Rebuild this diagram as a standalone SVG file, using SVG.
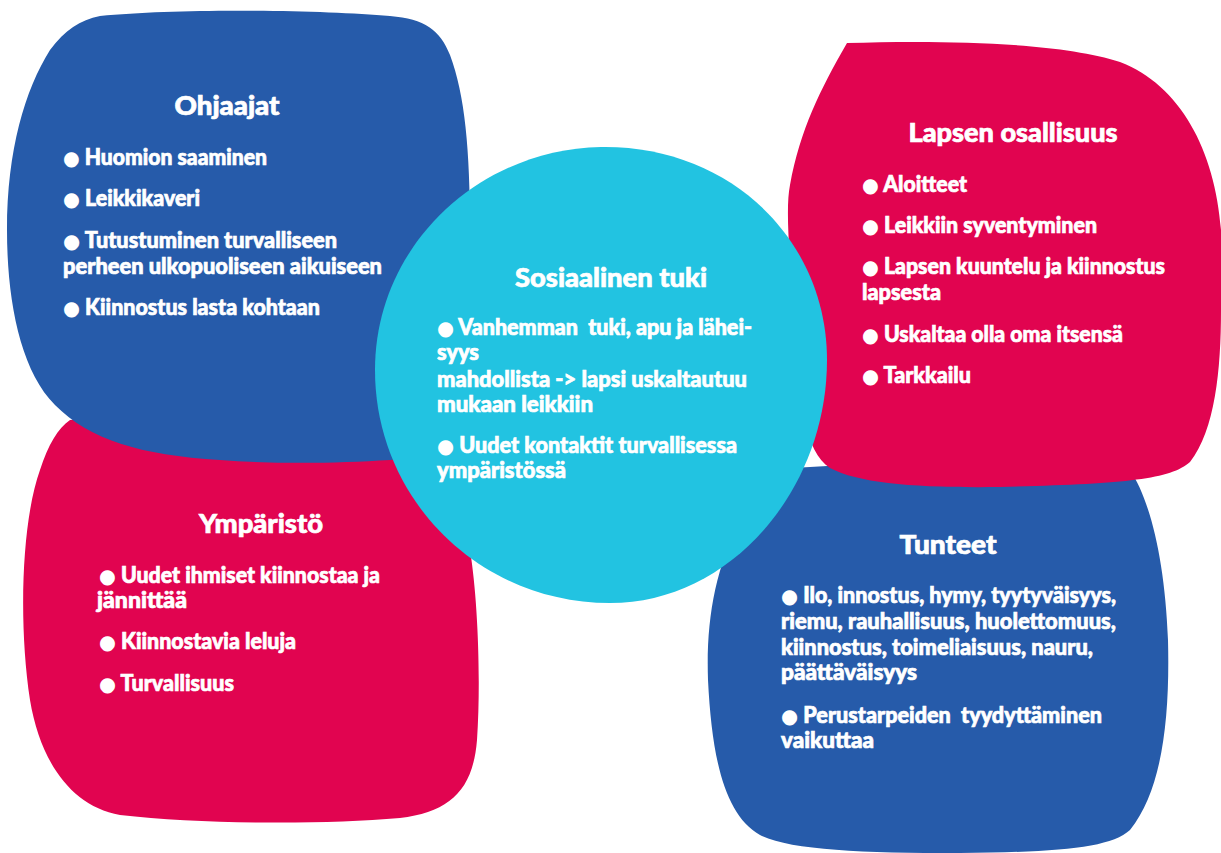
<svg xmlns="http://www.w3.org/2000/svg" width="1221" height="853" viewBox="0 0 1221 853">
<style>
.blue{fill:#265BAA}
.red{fill:#E10450}
.cyan{fill:#22C3E1}
text{fill:#FFFFFF;stroke:#FFFFFF;stroke-width:0.7px;font-family:Lato,"Liberation Sans",sans-serif;font-weight:900}
.t{font-size:26px;text-anchor:middle}
.i{font-size:22px}
.b{font-family:"DejaVu Sans",sans-serif;font-size:20px;stroke-width:0}
</style>
<rect width="1221" height="853" fill="#FFFFFF"/>
<g id="ymparisto">
<path class="red" d="M 70 420 C 150 412 350 412 470 430 L 470 550 C 478 600 481 680 477 740 C 473 790 450 812 400 818 C 320 825 200 824 120 815 C 70 806 40 760 30 700 C 18 620 22 520 40 470 C 48 445 58 428 70 420 Z"/>
<text class="t" x="261" y="533" textLength="124" lengthAdjust="spacingAndGlyphs">Ympäristö</text>
<text class="i" x="99" y="583" textLength="281" lengthAdjust="spacingAndGlyphs"><tspan class="b">●</tspan> Uudet ihmiset kiinnostaa ja</text>
<text class="i" x="97" y="608" textLength="90" lengthAdjust="spacingAndGlyphs">jännittää</text>
<text class="i" x="99" y="649" textLength="197" lengthAdjust="spacingAndGlyphs"><tspan class="b">●</tspan> Kiinnostavia leluja</text>
<text class="i" x="99" y="691" textLength="135" lengthAdjust="spacingAndGlyphs"><tspan class="b">●</tspan> Turvallisuus</text>
</g>
<g id="ohjaajat">
<path class="blue" d="M 100 16 C 180 8 320 10 390 16 C 425 19 440 30 450 55 C 465 95 470 150 470 230 L 470 452 C 400 462 300 466 220 460 C 140 455 90 440 55 405 C 20 370 7 300 7 230 C 7 150 25 90 50 50 C 65 30 80 20 100 16 Z"/>
<text class="t" x="227" y="115" textLength="105" lengthAdjust="spacingAndGlyphs">Ohjaajat</text>
<text class="i" x="63" y="165" textLength="204" lengthAdjust="spacingAndGlyphs"><tspan class="b">●</tspan> Huomion saaminen</text>
<text class="i" x="63" y="206" textLength="137" lengthAdjust="spacingAndGlyphs"><tspan class="b">●</tspan> Leikkikaveri</text>
<text class="i" x="63" y="248" textLength="274" lengthAdjust="spacingAndGlyphs"><tspan class="b">●</tspan> Tutustuminen turvalliseen</text>
<text class="i" x="63" y="274" textLength="319" lengthAdjust="spacingAndGlyphs">perheen ulkopuoliseen aikuiseen</text>
<text class="i" x="63" y="315" textLength="257" lengthAdjust="spacingAndGlyphs"><tspan class="b">●</tspan> Kiinnostus lasta kohtaan</text>
</g>
<g id="tunteet">
<path class="blue" d="M 760 470 C 900 460 1050 460 1130 470 C 1150 500 1165 560 1168 640 C 1170 720 1162 790 1130 830 C 1110 848 1060 852 960 853 C 860 853 790 850 760 835 C 725 815 712 760 708 680 C 706 620 715 570 740 520 C 748 495 752 478 760 470 Z"/>
<text class="t" x="948" y="554" textLength="97" lengthAdjust="spacingAndGlyphs">Tunteet</text>
<text class="i" x="781" y="603" textLength="335" lengthAdjust="spacingAndGlyphs"><tspan class="b">●</tspan> Ilo, innostus, hymy, tyytyväisyys,</text>
<text class="i" x="781" y="629" textLength="335" lengthAdjust="spacingAndGlyphs">riemu, rauhallisuus, huolettomuus,</text>
<text class="i" x="781" y="655" textLength="312" lengthAdjust="spacingAndGlyphs">kiinnostus, toimeliaisuus, nauru,</text>
<text class="i" x="781" y="680" textLength="136" lengthAdjust="spacingAndGlyphs">päättäväisyys</text>
<text class="i" x="781" y="723" textLength="321" lengthAdjust="spacingAndGlyphs" xml:space="preserve"><tspan class="b">●</tspan> Perustarpeiden  tyydyttäminen</text>
<text class="i" x="781" y="748" textLength="93" lengthAdjust="spacingAndGlyphs">vaikuttaa</text>
</g>
<g id="lapsen-osallisuus">
<path class="red" d="M 847 43 C 940 40 1060 42 1120 62 C 1180 85 1215 150 1221 230 L 1221 310 C 1221 370 1215 430 1190 462 C 1170 480 1120 484 1000 487 C 920 488 860 484 830 468 C 805 452 798 400 795 330 C 790 260 785 210 790 185 C 800 130 820 90 847 43 Z"/>
<text class="t" x="1013" y="142" textLength="209" lengthAdjust="spacingAndGlyphs">Lapsen osallisuus</text>
<text class="i" x="862" y="192" textLength="105" lengthAdjust="spacingAndGlyphs"><tspan class="b">●</tspan> Aloitteet</text>
<text class="i" x="862" y="233" textLength="235" lengthAdjust="spacingAndGlyphs"><tspan class="b">●</tspan> Leikkiin syventyminen</text>
<text class="i" x="862" y="274" textLength="303" lengthAdjust="spacingAndGlyphs"><tspan class="b">●</tspan> Lapsen kuuntelu ja kiinnostus</text>
<text class="i" x="862" y="300" textLength="79" lengthAdjust="spacingAndGlyphs">lapsesta</text>
<text class="i" x="862" y="342" textLength="261" lengthAdjust="spacingAndGlyphs"><tspan class="b">●</tspan> Uskaltaa olla oma itsensä</text>
<text class="i" x="862" y="383" textLength="109" lengthAdjust="spacingAndGlyphs"><tspan class="b">●</tspan> Tarkkailu</text>
</g>
<g id="sosiaalinen-tuki">
<path class="cyan" d="M 601 147 C 730 145 827 240 827 360 C 827 490 730 603 610 603 C 480 603 375 500 375 370 C 375 245 480 149 601 147 Z"/>
<text class="t" x="611" y="287" textLength="192" lengthAdjust="spacingAndGlyphs">Sosiaalinen tuki</text>
<text class="i" x="437" y="335" textLength="315" lengthAdjust="spacingAndGlyphs" xml:space="preserve"><tspan class="b">●</tspan> Vanhemman  tuki, apu ja lähei-</text>
<text class="i" x="437" y="360" textLength="42" lengthAdjust="spacingAndGlyphs">syys</text>
<text class="i" x="437" y="387" textLength="310" lengthAdjust="spacingAndGlyphs">mahdollista -&gt; lapsi uskaltautuu</text>
<text class="i" x="437" y="412" textLength="156" lengthAdjust="spacingAndGlyphs">mukaan leikkiin</text>
<text class="i" x="437" y="453" textLength="300" lengthAdjust="spacingAndGlyphs"><tspan class="b">●</tspan> Uudet kontaktit turvallisessa</text>
<text class="i" x="437" y="478" textLength="129" lengthAdjust="spacingAndGlyphs">ympäristössä</text>
</g>
<g id="connectors"/>
</svg>
